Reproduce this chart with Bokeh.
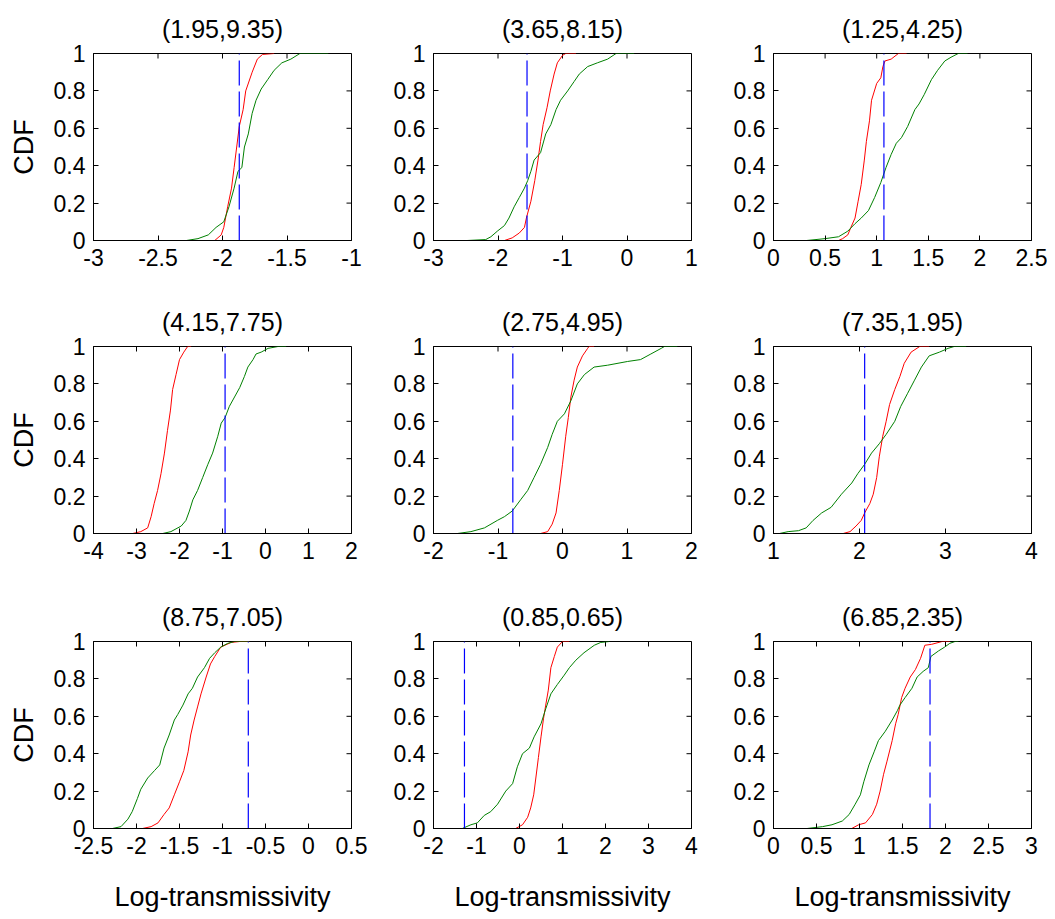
from math import pi

from bokeh.plotting import figure
from bokeh.layouts import gridplot
from bokeh.models import Range1d, FixedTicker, CustomJSTickFormatter
from bokeh.embed import file_html
from bokeh.resources import INLINE

# panel titles, (row by row)
titles = ["(1.95,9.35)", "(3.65,8.15)", "(1.25,4.25)",
          "(4.15,7.75)", "(2.75,4.95)", "(7.35,1.95)",
          "(8.75,7.05)", "(0.85,0.65)", "(6.85,2.35)"]

x_ranges = [(-3, -1), (-3, 1), (0, 2.5),
            (-4, 2), (-2, 2), (1, 4),
            (-2.5, 0.5), (-2, 4), (0, 3)]

x_ticks = [[-3, -2.5, -2, -1.5, -1], [-3, -2, -1, 0, 1], [0, 0.5, 1, 1.5, 2, 2.5],
           [-4, -3, -2, -1, 0, 1, 2], [-2, -1, 0, 1, 2], [1, 2, 3, 4],
           [-2.5, -2, -1.5, -1, -0.5, 0, 0.5], [-2, -1, 0, 1, 2, 3, 4], [0, 0.5, 1, 1.5, 2, 2.5, 3]]

y_ticks = [0, 0.2, 0.4, 0.6, 0.8, 1]

# blue dashed reference line position per panel
blue_x = [-1.87, -1.55, 1.07, -0.94, -0.77, 2.06, -0.70, -1.28, 1.82]

p1_red_x = [-2.06, -2.01, -1.99, -1.96, -1.93, -1.91, -1.89, -1.87, -1.84, -1.82, -1.77, -1.73, -1.69, -1.60]
p1_red_cdf = [0, 0.03, 0.07, 0.18, 0.28, 0.39, 0.50, 0.61, 0.70, 0.80, 0.90, 0.97, 0.995, 1]
p1_green_x = [-2.28, -2.19, -2.11, -2.05, -1.99, -1.95, -1.91, -1.88, -1.85, -1.83, -1.80, -1.77, -1.74, -1.70,
              -1.65, -1.60, -1.54, -1.47, -1.40, -1.18]
p1_green_cdf = [0, 0.01, 0.03, 0.07, 0.10, 0.18, 0.28, 0.37, 0.39, 0.50, 0.57, 0.68, 0.75, 0.81,
                0.86, 0.91, 0.95, 0.97, 1, 1]

p2_red_x = [-2.01, -1.90, -1.78, -1.67, -1.59, -1.56, -1.49, -1.43, -1.38, -1.34, -1.30, -1.24, -1.19, -1.13,
            -1.08, -1.00, -0.95, -0.79]
p2_red_cdf = [0, 0, 0.014, 0.04, 0.07, 0.12, 0.21, 0.32, 0.43, 0.53, 0.62, 0.71, 0.80, 0.89,
              0.95, 0.99, 1, 1]
p2_green_x = [-2.48, -2.19, -2.11, -2.01, -1.90, -1.83, -1.75, -1.67, -1.59, -1.54, -1.49, -1.44, -1.34, -1.26,
              -1.18, -1.10, -1.03, -0.92, -0.82, -0.74, -0.61, -0.46, -0.30, -0.17, 0.11]
p2_green_cdf = [0, 0.005, 0.02, 0.05, 0.08, 0.12, 0.18, 0.23, 0.28, 0.32, 0.37, 0.43, 0.47, 0.57,
                0.62, 0.70, 0.75, 0.80, 0.85, 0.89, 0.93, 0.95, 0.97, 1, 1]

p3_red_x = [0.63, 0.67, 0.72, 0.75, 0.79, 0.82, 0.85, 0.88, 0.90, 0.93, 0.95, 1.00, 1.04, 1.06,
            1.08, 1.14, 1.21, 1.29]
p3_red_cdf = [0, 0.01, 0.03, 0.07, 0.12, 0.21, 0.30, 0.43, 0.53, 0.64, 0.75, 0.84, 0.87, 0.93,
              0.96, 0.97, 1, 1]
p3_green_x = [0.32, 0.50, 0.63, 0.72, 0.79, 0.85, 0.92, 0.98, 1.04, 1.09, 1.14, 1.19, 1.24, 1.30,
              1.37, 1.41, 1.46, 1.53, 1.59, 1.66, 1.72, 1.79, 1.88]
p3_green_cdf = [0, 0.01, 0.02, 0.05, 0.09, 0.12, 0.16, 0.23, 0.31, 0.39, 0.46, 0.52, 0.55, 0.61,
                0.70, 0.73, 0.78, 0.86, 0.91, 0.96, 0.98, 1, 1]

p4_red_x = [-3.09, -2.90, -2.74, -2.66, -2.59, -2.51, -2.43, -2.35, -2.28, -2.21, -2.16, -2.08, -2.00, -1.90,
            -1.81, -1.73]
p4_red_cdf = [0, 0.01, 0.03, 0.09, 0.16, 0.23, 0.32, 0.43, 0.55, 0.66, 0.77, 0.85, 0.93, 0.97, 1, 1]
p4_green_x = [-2.39, -2.20, -1.96, -1.85, -1.77, -1.69, -1.58, -1.46, -1.34, -1.23, -1.11, -1.03, -0.94, -0.84,
              -0.72, -0.60, -0.49, -0.41, -0.29, -0.22, -0.10, 0.06, 0.29, 0.48]
p4_green_cdf = [0, 0.01, 0.04, 0.07, 0.12, 0.18, 0.23, 0.30, 0.37, 0.43, 0.52, 0.59, 0.62, 0.68,
                0.73, 0.78, 0.84, 0.89, 0.93, 0.96, 0.97, 0.99, 1, 1]

p5_red_x = [-0.34, -0.23, -0.16, -0.10, -0.05, 0.0, 0.05, 0.09, 0.13, 0.18, 0.23, 0.31, 0.39, 0.41, 0.49]
p5_red_cdf = [0, 0.01, 0.05, 0.11, 0.23, 0.37, 0.52, 0.62, 0.73, 0.82, 0.89, 0.95, 0.99, 1, 1]
p5_green_x = [-1.63, -1.42, -1.21, -1.01, -0.90, -0.78, -0.65, -0.54, -0.44, -0.34, -0.23, -0.16, -0.08, 0.03,
              0.13, 0.23, 0.34, 0.49, 0.70, 1.01, 1.21, 1.37, 1.53, 1.58, 1.78]
p5_green_cdf = [0, 0.01, 0.03, 0.07, 0.09, 0.12, 0.18, 0.23, 0.30, 0.37, 0.46, 0.53, 0.60, 0.64,
                0.71, 0.80, 0.85, 0.89, 0.90, 0.92, 0.93, 0.96, 0.99, 1, 1]

p6_red_x = [1.81, 1.89, 1.96, 2.02, 2.06, 2.12, 2.16, 2.20, 2.23, 2.27, 2.31, 2.35, 2.41, 2.47,
            2.52, 2.60, 2.70, 2.81]
p6_red_cdf = [0, 0.01, 0.04, 0.07, 0.11, 0.16, 0.21, 0.30, 0.41, 0.52, 0.60, 0.69, 0.77, 0.84,
              0.91, 0.97, 1, 1]
p6_green_x = [1.07, 1.17, 1.29, 1.38, 1.46, 1.56, 1.67, 1.79, 1.91, 1.98, 2.06, 2.14, 2.23, 2.31,
              2.41, 2.48, 2.56, 2.64, 2.72, 2.81, 2.93, 3.03, 3.10, 3.24]
p6_green_cdf = [0, 0.01, 0.015, 0.03, 0.07, 0.11, 0.14, 0.21, 0.27, 0.32, 0.37, 0.43, 0.48, 0.53,
                0.60, 0.68, 0.75, 0.82, 0.89, 0.95, 0.97, 0.99, 1, 1]

p7_red_x = [-1.93, -1.83, -1.75, -1.68, -1.62, -1.56, -1.50, -1.45, -1.40, -1.37, -1.33, -1.29, -1.25, -1.19,
            -1.14, -1.09, -1.02, -0.90, -0.80, -0.69]
p7_red_cdf = [0, 0.01, 0.03, 0.075, 0.11, 0.18, 0.25, 0.31, 0.41, 0.50, 0.58, 0.65, 0.72, 0.81,
              0.88, 0.92, 0.97, 0.995, 1, 1]
p7_green_x = [-2.28, -2.18, -2.10, -2.05, -1.99, -1.95, -1.87, -1.79, -1.73, -1.68, -1.62, -1.56, -1.52, -1.46,
              -1.40, -1.35, -1.29, -1.21, -1.15, -1.09, -1.02, -0.94, -0.86, -0.69]
p7_green_cdf = [0, 0.01, 0.05, 0.09, 0.16, 0.21, 0.27, 0.31, 0.34, 0.43, 0.50, 0.58, 0.61, 0.66,
                0.72, 0.75, 0.81, 0.86, 0.91, 0.94, 0.97, 0.99, 1, 1]

p8_red_x = [-0.09, 0.07, 0.19, 0.26, 0.33, 0.38, 0.44, 0.50, 0.56, 0.61, 0.67, 0.73, 0.81, 0.88, 1.00, 1.16]
p8_red_cdf = [0, 0.02, 0.06, 0.11, 0.18, 0.27, 0.38, 0.49, 0.59, 0.66, 0.74, 0.86, 0.92, 0.97, 1, 1]
p8_green_x = [-1.33, -1.13, -0.98, -0.82, -0.67, -0.51, -0.32, -0.16, -0.05, 0.07, 0.23, 0.34, 0.50, 0.61,
              0.73, 0.88, 1.04, 1.16, 1.31, 1.50, 1.74, 1.89, 2.09]
p8_green_cdf = [0, 0.02, 0.03, 0.07, 0.09, 0.13, 0.20, 0.24, 0.33, 0.40, 0.43, 0.49, 0.56, 0.64,
                0.72, 0.77, 0.82, 0.86, 0.90, 0.94, 0.98, 0.995, 1]

p9_red_x = [0.91, 0.99, 1.07, 1.15, 1.20, 1.24, 1.28, 1.32, 1.38, 1.42, 1.45, 1.49, 1.53, 1.59,
            1.65, 1.71, 1.76, 1.84, 1.96, 2.05]
p9_red_cdf = [0, 0.02, 0.03, 0.075, 0.13, 0.20, 0.29, 0.36, 0.47, 0.56, 0.61, 0.70, 0.75, 0.81,
              0.85, 0.91, 0.98, 0.985, 1, 1]
p9_green_x = [0.39, 0.57, 0.68, 0.80, 0.88, 0.95, 1.01, 1.05, 1.11, 1.17, 1.22, 1.30, 1.38, 1.44,
              1.47, 1.53, 1.61, 1.67, 1.74, 1.80, 1.83, 1.92, 1.99, 2.05, 2.11, 2.15]
p9_green_cdf = [0, 0.01, 0.02, 0.04, 0.075, 0.13, 0.18, 0.25, 0.34, 0.41, 0.47, 0.52, 0.58, 0.63,
                0.66, 0.70, 0.75, 0.81, 0.84, 0.86, 0.92, 0.95, 0.97, 0.99, 1, 1]

red_curves = [(p1_red_x, p1_red_cdf), (p2_red_x, p2_red_cdf), (p3_red_x, p3_red_cdf),
              (p4_red_x, p4_red_cdf), (p5_red_x, p5_red_cdf), (p6_red_x, p6_red_cdf),
              (p7_red_x, p7_red_cdf), (p8_red_x, p8_red_cdf), (p9_red_x, p9_red_cdf)]
green_curves = [(p1_green_x, p1_green_cdf), (p2_green_x, p2_green_cdf), (p3_green_x, p3_green_cdf),
                (p4_green_x, p4_green_cdf), (p5_green_x, p5_green_cdf), (p6_green_x, p6_green_cdf),
                (p7_green_x, p7_green_cdf), (p8_green_x, p8_green_cdf), (p9_green_x, p9_green_cdf)]

FONT = "Liberation Sans"
TICK_SIZE = "23px"
LABEL_SIZE = "27px"
TITLE_SIZE = "25px"

# borders so that frames line up like the original subplot grid
left_border = [93, 66, 66]
right_border = [16, 16, 16]
top_border = [53, 53, 53]
bottom_border = [53, 55, 89]


def style_axis(ax, ticks):
    ax.ticker = FixedTicker(ticks=ticks)
    ax.formatter = CustomJSTickFormatter(code="return String(tick)")
    ax.major_tick_in = 5
    ax.major_tick_out = 0
    ax.minor_tick_line_color = None
    ax.axis_line_color = "black"
    ax.major_tick_line_color = "black"
    ax.major_label_text_font = FONT
    ax.major_label_text_font_size = TICK_SIZE
    ax.major_label_text_color = "black"
    ax.axis_label_text_font = FONT
    ax.axis_label_text_font_size = LABEL_SIZE
    ax.axis_label_text_font_style = "normal"
    ax.axis_label_text_color = "black"


def make_panel(i):
    row, col = divmod(i, 3)
    lo, hi = x_ranges[i]
    p = figure(frame_width=258, frame_height=187,
               x_range=Range1d(lo, hi), y_range=Range1d(0, 1),
               output_backend="svg", toolbar_location=None,
               min_border_left=left_border[col], min_border_right=right_border[col],
               min_border_top=top_border[row], min_border_bottom=bottom_border[row])
    p.title.text = titles[i]
    p.title.align = "center"
    p.title.text_font = FONT
    p.title.text_font_size = TITLE_SIZE
    p.title.text_font_style = "normal"
    p.title.text_color = "black"
    p.title.standoff = 21
    p.xgrid.grid_line_color = None
    p.ygrid.grid_line_color = None
    p.outline_line_color = "black"

    xax = p.xaxis[0]
    yax = p.yaxis[0]
    style_axis(xax, x_ticks[i])
    style_axis(yax, y_ticks)
    xax.major_label_standoff = 8
    yax.major_label_standoff = 8
    if row == 2:
        xax.axis_label = "Log-transmissivity"
        xax.axis_label_standoff = 25
    if col == 0:
        yax.axis_label = "CDF"
        yax.axis_label_standoff = 12

    # inward ticks on the top and right edges (box on)
    p.ray(x=x_ticks[i], y=1, length=5, length_units="screen", angle=-pi / 2,
          color="black", line_width=1)
    p.ray(x=hi, y=y_ticks, length=5, length_units="screen", angle=pi,
          color="black", line_width=1)

    rx, ry = red_curves[i]
    gx, gy = green_curves[i]
    p.line(rx, ry, color="#ff0000", line_width=1)
    p.line(gx, gy, color="#008000", line_width=1)
    p.line([blue_x[i], blue_x[i]], [0, 1], color="#0000ff", line_width=1.2, line_dash="25 6")
    return p


panels = [make_panel(i) for i in range(9)]
grid = gridplot([panels[0:3], panels[3:6], panels[6:9]], toolbar_location=None)

open("out.html", "w").write(file_html(grid, INLINE))
